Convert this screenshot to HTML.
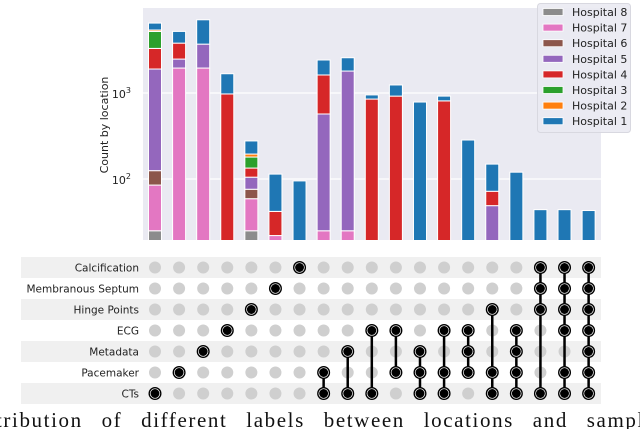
<!DOCTYPE html>
<html><head><meta charset="utf-8"><style>
body{margin:0;background:#fff;width:640px;height:429px;overflow:hidden;position:relative}
svg{position:absolute;left:0;top:0}
.capwrap{position:absolute;left:0;top:406px;width:640px;height:23px;overflow:hidden}
.cap{position:absolute;left:-4px;top:2px;font-family:"Liberation Serif",serif;font-size:21px;white-space:nowrap;letter-spacing:1.6px;word-spacing:12px;color:#111}
</style></head><body>
<svg id="chart" width="640" height="429" font-family="DejaVu Sans, Liberation Sans, sans-serif"></svg>
<div class="capwrap"><div class="cap">tribution of different labels between locations and samples</div></div>
<script>
const hospitals=["Hospital 8","Hospital 7","Hospital 6","Hospital 5","Hospital 4","Hospital 3","Hospital 2","Hospital 1"];
const colors=["#8c8c8c","#e377c2","#8c564b","#9467bd","#d62728","#2ca02c","#ff7f0e","#1f77b4"];
const h8=[25,0,0,0,25,0,0,0,0,0,0,0,0,0,0,0,0,0,0];
const h7=[60,1950,1950,0,34,22,0,25,25,0,0,0,0,0,0,0,0,0,0];
const h6=[40,0,0,0,17,0,0,0,0,0,0,0,0,0,0,0,0,0,0];
const h5=[1775,530,1750,0,29,0,0,545,1775,0,0,0,0,0,49,0,0,0,0];
const h4=[1400,1320,0,975,29,20,0,1050,0,850,920,0,810,0,23,0,0,0,0];
const h3=[1900,0,0,0,46,0,0,0,0,0,0,0,0,0,0,0,0,0,0];
const h2=[200,0,0,0,15,0,0,0,0,0,0,0,0,0,0,0,0,0,0];
const h1=[1100,1400,3400,700,82,72,95,800,770,100,320,785,110,284,77,120,44,44,43];
const series=[h8,h7,h6,h5,h4,h3,h2,h1];
const rowsLabels=["Calcification","Membranous Septum","Hinge Points","ECG","Metadata","Pacemaker","CTs"];
const membership=[[6],[5],[4],[3],[2],[1],[0],[5,6],[4,6],[3,6],[3,5],[4,5,6],[3,5,6],[3,4,5],[2,5,6],[3,4,5,6],[0,1,2,6],[0,1,2,3,5,6],[0,1,2,3,4,5,6]];
const yTicks=[2,3];

const NS="http://www.w3.org/2000/svg";
const svg=document.getElementById("chart");
function mk(t,a,p){const e=document.createElementNS(NS,t);for(const k in a)e.setAttribute(k,a[k]);(p||svg).appendChild(e);return e;}
const PL=143,PR=601,PT=8,PB=240;
const yScale=v=>179-(Math.log10(v)-2)*86;
const xCol=i=>155+i*24.09;
const rowY=r=>267.5+r*21;

const bg=mk("rect",{x:PL,y:PT,width:PR-PL,height:PB-PT,fill:"#eaeaf2"});


yTicks.forEach(t=>{
  const y=yScale(Math.pow(10,t));
  const g=mk("line",{x1:PL,x2:PR,y1:y,y2:y,stroke:"#fff","stroke-width":1.2});
  
  
  const tx=mk("text",{x:131,y:y+5,"font-size":11,"text-anchor":"end",fill:"#222"});
  
  
  tx.innerHTML='10<tspan dy="-5" font-size="8">'+t+'</tspan>';
});
const yl=mk("text",{x:0,y:0,"font-size":11,"text-anchor":"middle",fill:"#222",transform:"translate(108,125) rotate(-90)"});
yl.textContent="Count by location";



const clip=mk("clipPath",{id:"pc"});mk("rect",{x:PL,y:PT,width:PR-PL,height:PB-PT},clip);
const barsG=mk("g",{"clip-path":"url(#pc)"});
for(let i=0;i<h1.length;i++){
  let cum=0;
  for(let s=0;s<series.length;s++){
    const v=series[s][i];if(!v)continue;
    const y0=cum<=0?PB+2:yScale(cum);cum+=v;const y1=yScale(cum);
    const r=mk("rect",{x:xCol(i)-6.5,y:y1,width:13,height:Math.max(0,y0-y1),fill:colors[s],stroke:"#fff","stroke-width":1},barsG);
    
    
  }
}
const lg=mk("g",{});


mk("rect",{x:537.5,y:3.5,width:93,height:129,rx:3,fill:"#eaeaf2","fill-opacity":0.9,stroke:"#d8d8e0"},lg);
for(let s=0;s<8;s++){
  const y=12+s*15.6;
  const sw=mk("rect",{x:543,y:y-3.5,width:20,height:7,fill:colors[s],stroke:"#fff","stroke-width":0.8},lg);
  
  
  const t=mk("text",{x:572,y:y+4,"font-size":11,fill:"#222"},lg);
  t.textContent=hospitals[s];
  
  
}
for(let r=0;r<rowsLabels.length;r++){
  if(r%2===0){
    const b=mk("rect",{x:21,y:rowY(r)-10.5,width:580,height:21,fill:"#f0f0f0"});
    
    
  }
  const t=mk("text",{x:139,y:rowY(r)+4,"font-size":10.5,"text-anchor":"end",fill:"#222"});
  t.textContent=rowsLabels[r];
  
  
}
for(let i=0;i<membership.length;i++){
  const m=membership[i];
  for(let r=0;r<rowsLabels.length;r++){
    if(m.includes(r))continue;
    const d=mk("circle",{cx:xCol(i),cy:rowY(r),r:6,fill:"#cfcfcf"});
    
    
  }
  const mn=Math.min(...m),mx=Math.max(...m);
  if(mx>mn){
    const l=mk("line",{x1:xCol(i),x2:xCol(i),y1:rowY(mn),y2:rowY(mx),stroke:"#000","stroke-width":2.5});
    
    
  }
  m.forEach(r=>{
    const d=mk("circle",{cx:xCol(i),cy:rowY(r),r:6.5,fill:"#000"});
    
    
    mk("circle",{cx:xCol(i),cy:rowY(r),r:4.8,fill:"none",stroke:"#fff","stroke-width":0.7});
  });
}
</script>
</body></html>
